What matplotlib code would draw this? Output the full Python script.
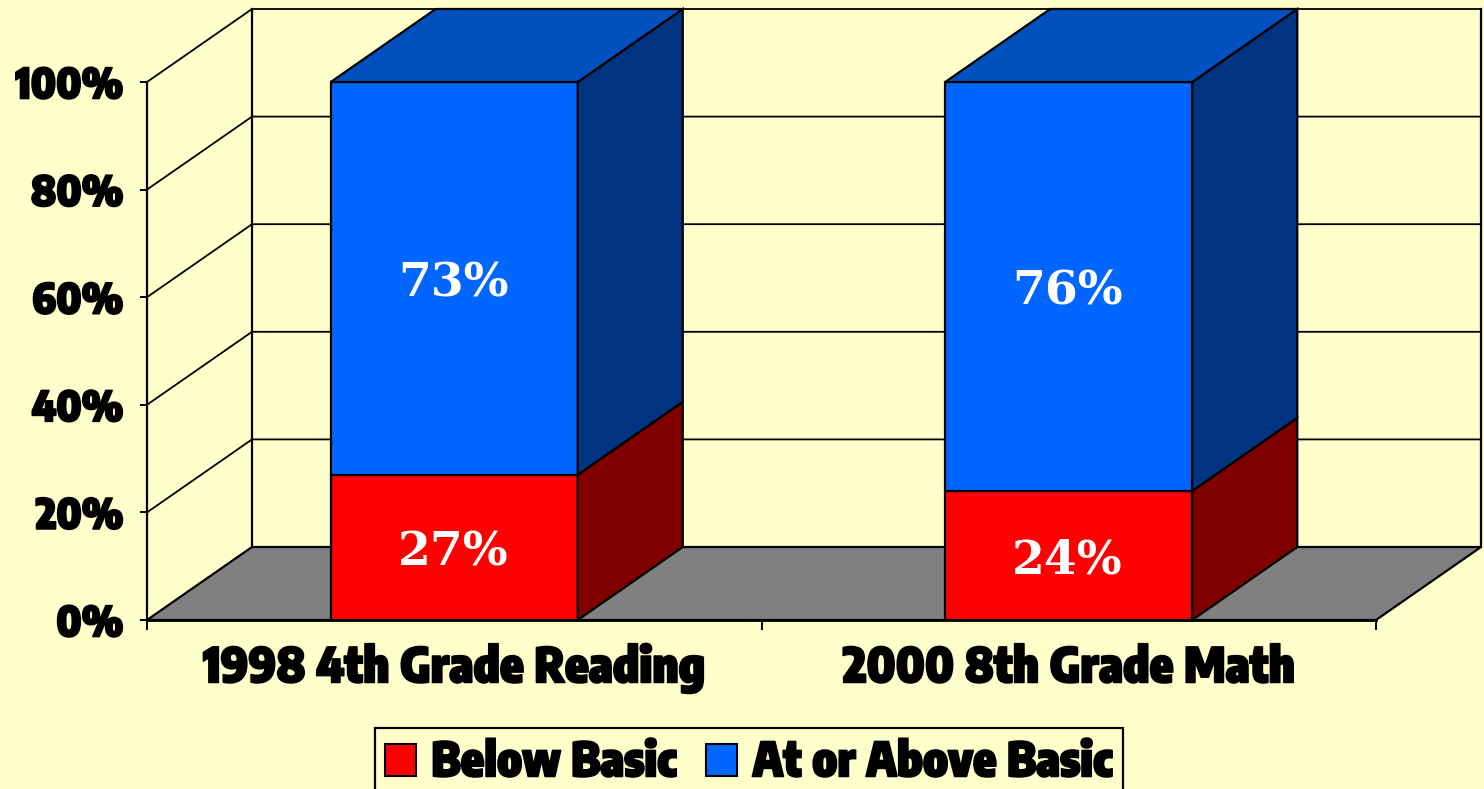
import matplotlib
matplotlib.use("Agg")
import matplotlib.pyplot as plt
import matplotlib.patheffects as pe
from matplotlib.patches import Polygon, Patch

categories = ["1998 4th Grade Reading", "2000 8th Grade Math"]
below = [27, 24]
above = [73, 76]
series_names = ["Below Basic", "At or Above Basic"]
ticks = [0, 20, 40, 60, 80, 100]

bg = "#FFFFCC"
# oblique depth in data units
dx = 105 / 614.5
dy = 73 / 5.38
width = 0.402

heavy = ["Encode Sans Condensed", "Liberation Sans"]
thick = [pe.withStroke(linewidth=1.2, foreground="black")]

fig = plt.figure(figsize=(14.84, 7.89), dpi=100, facecolor=bg)
ax = fig.add_axes([147 / 1484, (789 - 620) / 789, 1229 / 1484, 538 / 789])
ax.set_xlim(0, 2)
ax.set_ylim(0, 100)
ax.patch.set_visible(False)
for s in ax.spines.values():
    s.set_visible(False)


def face(pts, color, z):
    ax.add_patch(Polygon(pts, closed=True, facecolor=color, edgecolor="black",
                         linewidth=1.6, clip_on=False, zorder=z, joinstyle="miter"))


# floor
face([(0, 0), (dx, dy), (2 + dx, dy), (2, 0)], "#808080", 1)

# walls and gridlines
for t in ticks[1:]:
    ax.plot([0, dx, 2 + dx], [t, t + dy, t + dy], color="black", lw=1.3, clip_on=False, zorder=2)
ax.plot([dx, dx], [dy, 100 + dy], color="black", lw=1.6, clip_on=False, zorder=2)
ax.plot([2 + dx, 2 + dx], [dy, 100 + dy], color="black", lw=1.6, clip_on=False, zorder=2)

# stacked bars
for i in range(len(categories)):
    x0 = i + 0.5 - width / 2
    x1 = i + 0.5 + width / 2
    b = below[i]
    t = below[i] + above[i]
    face([(x0, 0), (x1, 0), (x1, b), (x0, b)], "#FF0000", 4)
    face([(x1, 0), (x1 + dx, dy), (x1 + dx, b + dy), (x1, b)], "#800000", 4)
    face([(x0, b), (x1, b), (x1, t), (x0, t)], "#0066FF", 4)
    face([(x1, b), (x1 + dx, b + dy), (x1 + dx, t + dy), (x1, t)], "#003380", 4)
    face([(x0, t), (x1, t), (x1 + dx, t + dy), (x0 + dx, t + dy)], "#0050BF", 4)
    ax.text(i + 0.498, b / 2 - 1.0, f"{below[i]}%", color="white", ha="center", va="center",
            family="DejaVu Serif", weight="bold", fontsize=34, zorder=6)
    ax.text(i + 0.498, b + above[i] / 2 - 1.0, f"{above[i]}%", color="white", ha="center", va="center",
            family="DejaVu Serif", weight="bold", fontsize=34, zorder=6)

# axis lines on top of the floor
ax.plot([0, 0], [0, 100], color="black", lw=1.6, clip_on=False, zorder=3)
ax.plot([0, 2], [0, 0], color="black", lw=2, clip_on=False, zorder=5)

ax.set_yticks(ticks)
ax.set_yticklabels([f"{t}%" for t in ticks], family=heavy, weight=900, fontsize=30,
                   path_effects=thick)
ax.set_xticks([0, 1, 2])
ax.set_xticklabels([])
ax.tick_params(axis="y", length=5, width=1.4, pad=12)
ax.tick_params(axis="x", length=7, width=1.4)
for i, c in enumerate(categories):
    ax.text(i + 0.5, -9, c, ha="center", va="center", family=heavy, weight=900,
            fontsize=34.5, path_effects=thick, clip_on=False)

handles = [Patch(facecolor="#FF0000", edgecolor="black", linewidth=1.5),
           Patch(facecolor="#0066FF", edgecolor="black", linewidth=1.5)]
leg = fig.legend(handles, series_names, ncol=2, loc="upper center",
                 bbox_to_anchor=(749 / 1484, 1 - 728 / 789), frameon=True, fancybox=False,
                 facecolor=bg, edgecolor="black", framealpha=1,
                 prop={"family": heavy, "weight": 900, "size": 34},
                 handlelength=0.66, handleheight=0.66, handletextpad=0.33,
                 columnspacing=0.6, borderaxespad=0, borderpad=0.2)
leg.get_frame().set_linewidth(1.6)
for txt in leg.get_texts():
    txt.set_path_effects(thick)

fig.savefig("out.png", dpi=100, facecolor=bg)
